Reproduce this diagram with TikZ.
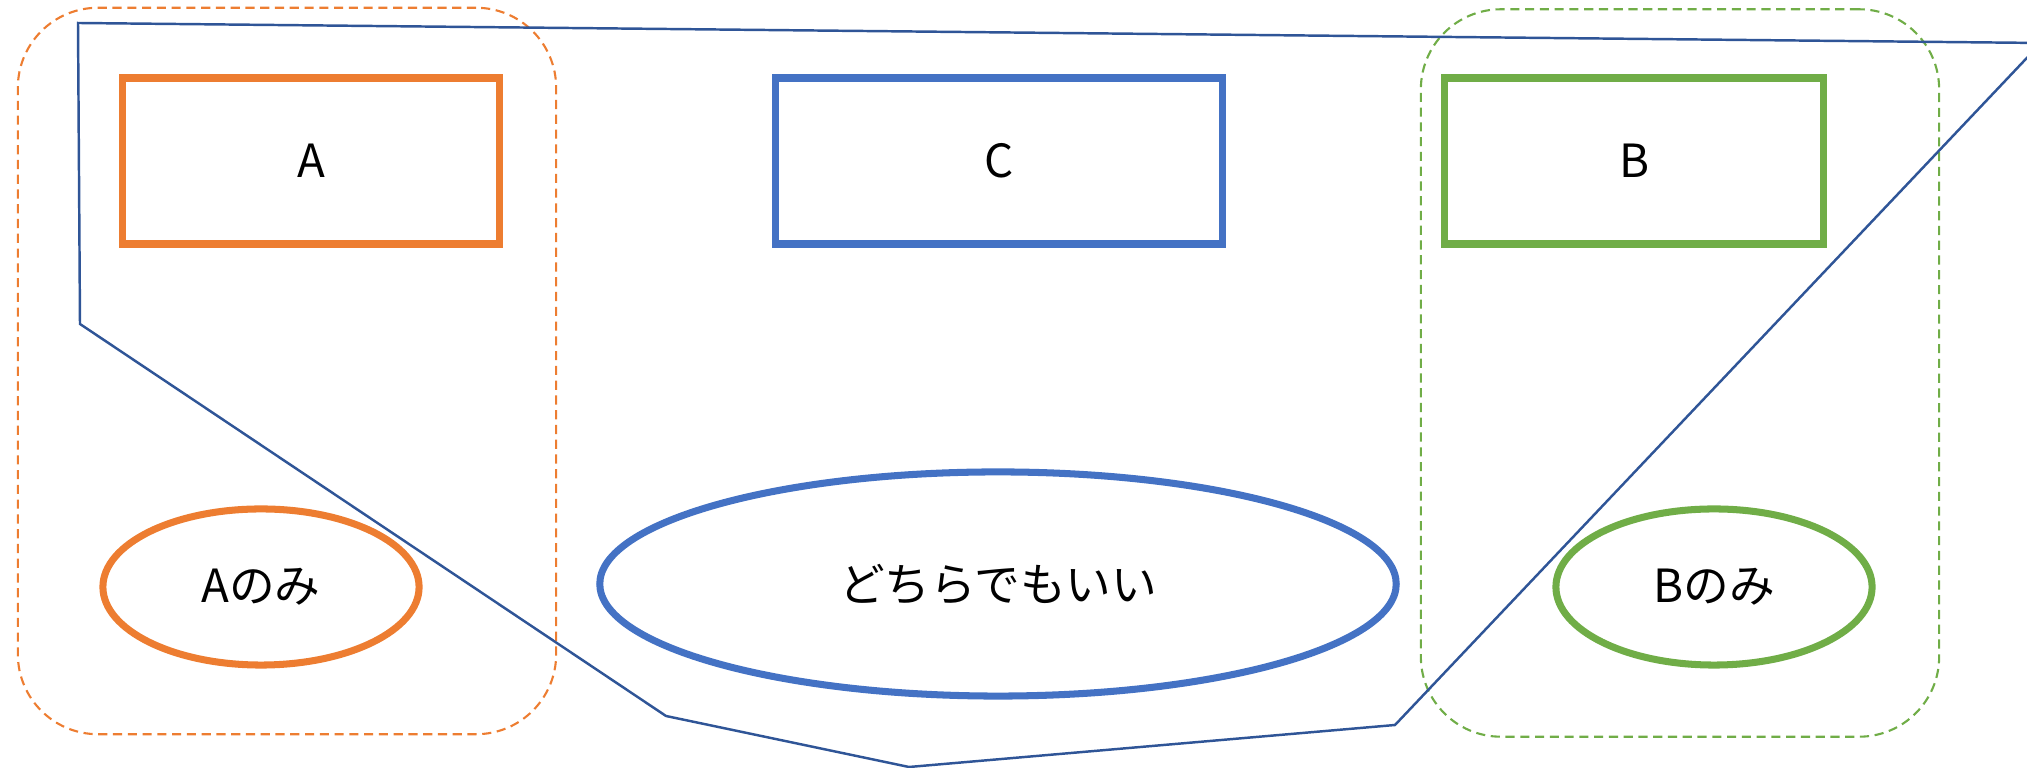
\documentclass[tikz,border=0pt]{standalone}
\usepackage{fontspec}
\setmainfont{Noto Sans CJK JP}
\usetikzlibrary{shapes.geometric}

\definecolor{aorange}{HTML}{ED7D31}
\definecolor{cblue}{HTML}{4472C4}
\definecolor{bgreen}{HTML}{70AD47}
\definecolor{lineblue}{HTML}{2F5597}

\begin{document}
\begin{tikzpicture}[x=0.01cm, y=-0.01cm,
    every node/.style={font=\fontsize{13}{15}\selectfont, inner sep=0pt},
    setbox/.style={draw=#1, line width=2.1pt, minimum width=3.77cm, minimum height=1.66cm},
    onlybox/.style={draw=#1, ellipse, line width=2pt, minimum width=3.16cm, minimum height=1.56cm},
    groupbox/.style={draw=#1, dash pattern=on 2.6pt off 1.6pt, line width=0.6pt, rounded corners=0.8cm}]
  \useasboundingbox (0,0) rectangle (2027,768);
  \clip (0,0) rectangle (2027,768);

  % dashed groups
  \node[groupbox=aorange, minimum width=5.38cm, minimum height=7.26cm] (groupA) at (287,371) {};
  \node[groupbox=bgreen, minimum width=5.18cm, minimum height=7.27cm] (groupB) at (1680,373) {};

  % blue outline
  \draw[lineblue, line width=0.7pt] (78,23) -- (2041,43) -- (1395,725) -- (909,767) -- (666,716) -- (80,324) -- cycle;

  \node[setbox=aorange] (A) at (311,161) {A};
  \node[setbox=cblue, minimum width=4.47cm] (C) at (999,161) {C};
  \node[setbox=bgreen, minimum width=3.79cm] (B) at (1634,161) {B};

  \node[onlybox=aorange] (onlyA) at (261,587) {Aのみ};
  \node[onlybox=cblue, minimum width=7.96cm, minimum height=2.24cm] (either) at (998,584) {どちらでもいい};
  \node[onlybox=bgreen] (onlyB) at (1714,587) {Bのみ};
\end{tikzpicture}
\end{document}
